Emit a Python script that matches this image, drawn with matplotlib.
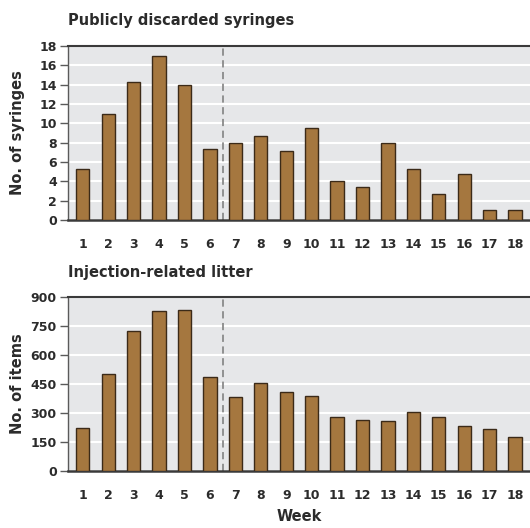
import numpy as np
import matplotlib.pyplot as plt

weeks = list(range(1, 19))
syringes = [5.3, 11, 14.3, 17, 14, 7.4, 8, 8.7, 7.1, 9.5, 4, 3.4, 8, 5.3, 2.7, 4.8, 1, 1]
litter = [220, 500, 725, 826, 831, 487, 384, 456, 406, 387, 280, 263, 258, 303, 277, 234, 215, 177]
cutoff_week = 6.5

bar_color = '#a5773f'
edge_color = '#3b2a18'
text_color = '#2b2b2b'
bg_color = '#e6e7e9'

fig = plt.figure(figsize=(5.30, 5.28), dpi=100)
ax1 = fig.add_axes([0.128, 0.583, 0.872, 0.330])
ax2 = fig.add_axes([0.128, 0.108, 0.872, 0.330])


def style(ax, values, ymax, step, ylabel):
    ax.set_facecolor(bg_color)
    ax.bar(weeks, values, width=0.52, color=bar_color, edgecolor=edge_color, linewidth=1.0, zorder=3)
    ax.axvline(cutoff_week, color='#8a8a8a', linestyle=(0, (4, 2.5)), linewidth=1.3, zorder=2)
    ax.set_xlim(0.41, 18.59)
    ax.set_ylim(0, ymax)
    ax.set_yticks(np.arange(0, ymax + 1, step))
    ax.set_xticks(weeks)
    ax.yaxis.grid(True, color='white', linewidth=1.5, zorder=1)
    ax.set_axisbelow(True)
    ax.spines['right'].set_visible(False)
    ax.spines['top'].set_color('#3a3a3a')
    ax.spines['top'].set_linewidth(1.5)
    ax.spines['bottom'].set_color('#3a3a3a')
    ax.spines['bottom'].set_linewidth(1.8)
    ax.spines['left'].set_color('#5a5a5a')
    ax.spines['left'].set_linewidth(1.0)
    ax.tick_params(axis='x', length=0, pad=13, labelsize=9, labelcolor=text_color)
    ax.tick_params(axis='y', length=6, width=1, color='#5a5a5a', pad=2, labelsize=9, labelcolor=text_color)
    for lbl in ax.get_xticklabels() + ax.get_yticklabels():
        lbl.set_fontweight('bold')
    ax.set_ylabel(ylabel, fontsize=10.5, fontweight='bold', color=text_color)
    ax.yaxis.set_label_coords(-0.092, 0.5)


style(ax1, syringes, 18, 2, 'No. of syringes')
style(ax2, litter, 900, 150, 'No. of items')
ax2.set_xlabel('Week', fontsize=10.5, fontweight='bold', color=text_color, labelpad=5)

fig.text(0.128, 0.961, 'Publicly discarded syringes', fontsize=10.5, fontweight='bold',
         color=text_color, ha='left', va='center')
fig.text(0.128, 0.483, 'Injection-related litter', fontsize=10.5, fontweight='bold',
         color=text_color, ha='left', va='center')

fig.savefig('out.png', dpi=100, facecolor='white')
